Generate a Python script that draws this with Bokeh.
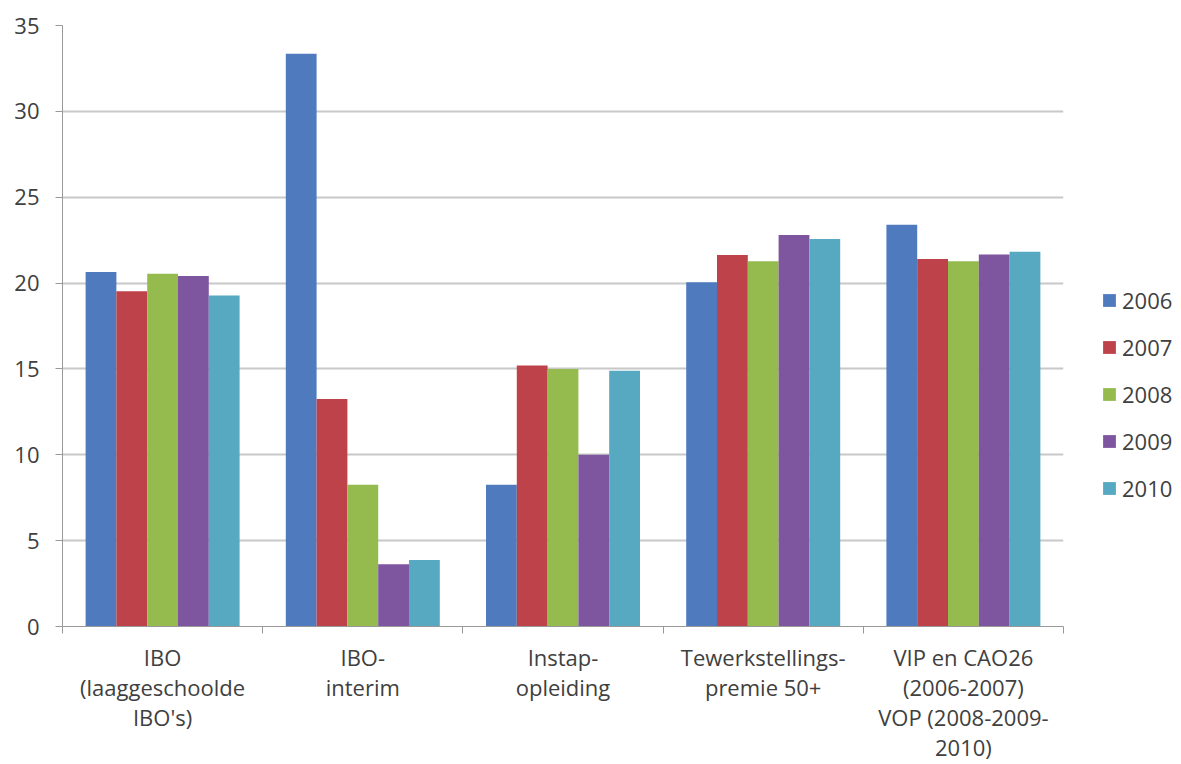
import numpy as np
from bokeh.plotting import figure
from bokeh.models import Range1d, FixedTicker, Legend, LegendItem, ColumnDataSource
from bokeh.embed import file_html
from bokeh.resources import INLINE

categories = [
    "IBO\n(laaggeschoolde\nIBO's)",
    "IBO-\ninterim",
    "Instap-\nopleiding",
    "Tewerkstellings-\npremie 50+",
    "VIP en CAO26\n(2006-2007)\nVOP (2008-2009-\n2010)",
]
years = ["2006", "2007", "2008", "2009", "2010"]
v2006 = [20.64, 33.35, 8.25, 20.05, 23.40]
v2007 = [19.52, 13.25, 15.20, 21.63, 21.40]
v2008 = [20.55, 8.25, 15.00, 21.27, 21.27]
v2009 = [20.41, 3.62, 10.00, 22.80, 21.67]
v2010 = [19.28, 3.87, 14.90, 22.57, 21.83]
series = [v2006, v2007, v2008, v2009, v2010]
colors = ["#4F7BBE", "#BE4249", "#95BB4E", "#7E569F", "#57A8C1"]
yticks = [0, 5, 10, 15, 20, 25, 30, 35]

font = "Open Sans"
txt = "#404040"
grid = "#C8C8C8"

p = figure(frame_width=1001, frame_height=601, output_backend="svg", toolbar_location=None,
           x_range=Range1d(0, len(categories)), y_range=Range1d(0, 35),
           min_border_left=62, min_border_top=25, min_border_right=10, min_border_bottom=5)
p.outline_line_color = None
p.background_fill_color = "white"

n = len(years)
gap = 1.5
w = 1.0 / (n + gap)
centers = np.arange(len(categories)) + 0.5
items = []
for i, (yr, vals, c) in enumerate(zip(years, series, colors)):
    xs = centers + (i - (n - 1) / 2) * w
    src = ColumnDataSource(dict(x=xs, top=vals))
    r = p.vbar(x="x", top="top", width=w, bottom=0, source=src, fill_color=c, line_color=None)
    items.append(LegendItem(label=yr, renderers=[r]))

# x axis
xa = p.xaxis[0]
xa.ticker = FixedTicker(ticks=list(centers), minor_ticks=list(range(len(categories) + 1)))
xa.major_label_overrides = {float(cx): lab for cx, lab in zip(centers, categories)}
xa.major_tick_out = 0
xa.major_tick_in = 0
xa.minor_tick_out = 7
xa.minor_tick_in = 0
xa.minor_tick_line_color = "#999999"
xa.axis_line_color = "#999999"
xa.major_label_text_font = font
xa.major_label_text_font_size = "22px"
xa.major_label_text_color = txt
xa.major_label_standoff = 8
xa.major_label_text_align = "center"
xa.major_label_text_line_height = 1.0

ya = p.yaxis[0]
ya.ticker = FixedTicker(ticks=yticks)
ya.major_tick_out = 7
ya.major_tick_in = 0
ya.minor_tick_line_color = None
ya.major_tick_line_color = "#999999"
ya.axis_line_color = "#999999"
ya.major_label_text_font = font
ya.major_label_text_font_size = "22px"
ya.major_label_text_color = txt
ya.major_label_standoff = 16

p.xgrid.grid_line_color = None
p.ygrid.ticker = FixedTicker(ticks=yticks)
p.ygrid.grid_line_color = grid
p.ygrid.grid_line_width = 2

legend = Legend(items=items, location=(38, 123), border_line_color=None,
                background_fill_alpha=0, margin=0,
                label_text_font=font, label_text_font_size="22px", label_text_color=txt,
                glyph_width=16, glyph_height=16, spacing=17, label_standoff=5, padding=4)
p.add_layout(legend, "right")

open("out.html", "w").write(file_html(p, INLINE))
